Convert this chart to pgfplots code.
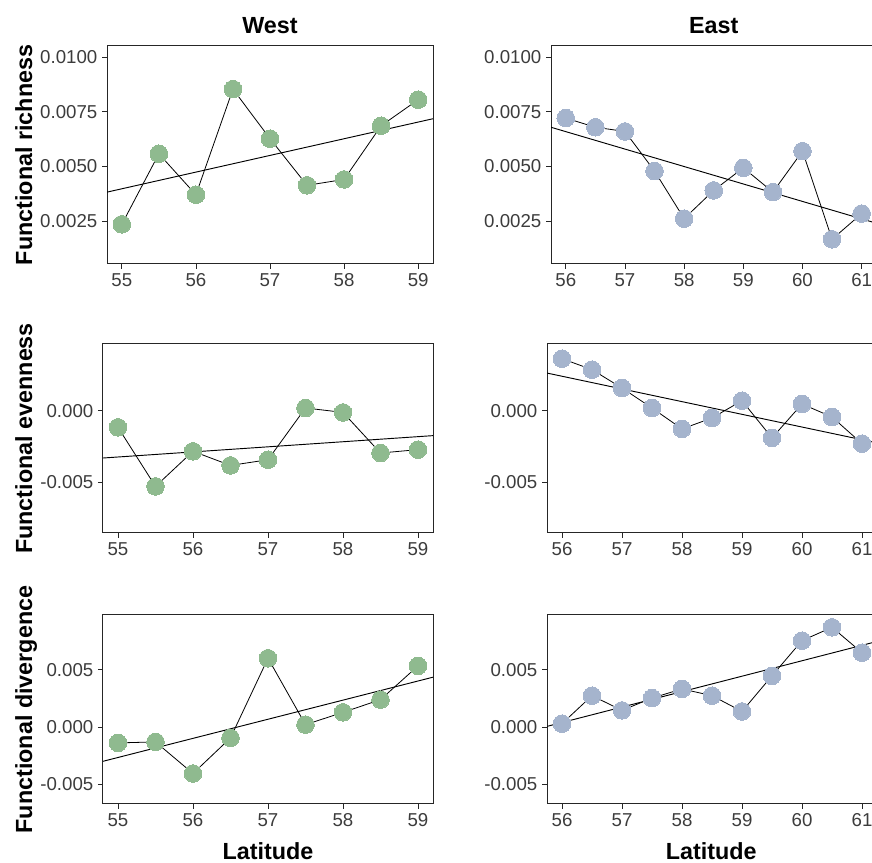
\documentclass[border=0pt]{standalone}
\usepackage{pgfplots}
\pgfplotsset{compat=1.18}
\usepackage{fontspec}
\setmainfont{Liberation Sans}
\definecolor{wgreen}{RGB}{143,186,143}
\definecolor{eblue}{RGB}{165,180,205}
\definecolor{ticktxt}{RGB}{60,60,60}

\pgfplotstableread{
x y
55 0.00236
55.5 0.00558
56 0.00371
56.5 0.00853
57 0.00627
57.5 0.00414
58 0.00441
58.5 0.00686
59 0.00805
}\wrich
\pgfplotstableread{
x y
55 -0.00117
55.5 -0.00531
56 -0.00285
56.5 -0.00384
57 -0.00344
57.5 0.00019
58 -0.00012
58.5 -0.00297
59 -0.00273
}\weven
\pgfplotstableread{
x y
55 -0.00140
55.5 -0.00131
56 -0.00408
56.5 -0.00096
57 0.00602
57.5 0.00020
58 0.00128
58.5 0.00239
59 0.00535
}\wdiv
\pgfplotstableread{
x y
56 0.00721
56.5 0.00679
57 0.00660
57.5 0.00479
58 0.00262
58.5 0.00391
59 0.00494
59.5 0.00383
60 0.00570
60.5 0.00168
61 0.00285
}\erich
\pgfplotstableread{
x y
56 0.00365
56.5 0.00288
57 0.00159
57.5 0.00019
58 -0.00128
58.5 -0.00051
59 0.00070
59.5 -0.00191
60 0.00047
60.5 -0.00044
61 -0.00231
}\eeven
\pgfplotstableread{
x y
56 0.00029
56.5 0.00274
57 0.00145
57.5 0.00253
58 0.00333
58.5 0.00274
59 0.00136
59.5 0.00448
60 0.00756
60.5 0.00873
61 0.00651
}\ediv

\pgfplotsset{
  panel/.style={
    scale only axis, anchor=south west,
    axis line style={black!85, line width=0.75pt},
    tick style={black!85, line width=0.6pt},
    major tick length=3.75pt,
    tick align=outside,
    xtick pos=bottom, ytick pos=left,
    ticklabel style={font=\fontsize{14}{16}\selectfont, text=ticktxt},
    scaled y ticks=false, scaled x ticks=false,
    /pgf/number format/assume math mode=true,
    title style={font=\bfseries\fontsize{17.5}{20}\selectfont, at={(0.5,1)}, anchor=base, yshift=3.5pt},
  },
  west/.style={xmin=54.8, xmax=59.2, xtick={55,56,57,58,59}, xticklabels={55,56,57,58,59}},
  east/.style={xmin=55.75, xmax=61.25, xtick={56,57,58,59,60,61}, xticklabels={56,57,58,59,60,61}},
  row1/.style={ymin=0.00055, ymax=0.0105, height=163.5pt, ytick={0.0025,0.005,0.0075,0.01}, yticklabels={0.0025,0.0050,0.0075,0.0100}},
  row2/.style={ymin=-0.00858, ymax=0.00468, height=141.75pt, ytick={-0.005,0}, yticklabels={-0.005,0.000}},
  row3/.style={ymin=-0.00675, ymax=0.00981, height=141.75pt, ytick={-0.005,0,0.005}, yticklabels={-0.005,0.000,0.005}},
  pts/.style={only marks, color=#1, mark=*, mark size=6.6pt, mark options={solid, draw=#1, fill=#1, line width=0pt}},
  conn/.style={black, line width=0.6pt, no marks},
  fit/.style={black, line width=0.7pt, no marks},
}

\begin{document}
\begin{tikzpicture}
% Row 1
\begin{axis}[panel, west, row1, at={(80.25pt,449.25pt)}, width=244.5pt, title={West}]
  \addplot[pts=wgreen] table[x=x,y=y]{\wrich};
  \addplot[conn] table[x=x,y=y]{\wrich};
  \addplot[fit] coordinates {(54.8,0.00383) (59.2,0.00718)};
\end{axis}
\begin{axis}[panel, east, row1, at={(413.25pt,449.25pt)}, width=244.1pt, title={East}]
  \addplot[pts=eblue] table[x=x,y=y]{\erich};
  \addplot[conn] table[x=x,y=y]{\erich};
  \addplot[fit] coordinates {(55.75,0.00679) (61.25,0.00241)};
\end{axis}
% Row 2
\begin{axis}[panel, west, row2, at={(77.25pt,247.5pt)}, width=247.5pt]
  \addplot[pts=wgreen] table[x=x,y=y]{\weven};
  \addplot[conn] table[x=x,y=y]{\weven};
  \addplot[fit] coordinates {(54.8,-0.00332) (59.2,-0.00175)};
\end{axis}
\begin{axis}[panel, east, row2, at={(410.25pt,247.5pt)}, width=247.5pt]
  \addplot[pts=eblue] table[x=x,y=y]{\eeven};
  \addplot[conn] table[x=x,y=y]{\eeven};
  \addplot[fit] coordinates {(55.75,0.00264) (61.25,-0.00226)};
\end{axis}
% Row 3
\begin{axis}[panel, west, row3, at={(77.25pt,44.25pt)}, width=247.5pt]
  \addplot[pts=wgreen] table[x=x,y=y]{\wdiv};
  \addplot[conn] table[x=x,y=y]{\wdiv};
  \addplot[fit] coordinates {(54.8,-0.00301) (59.2,0.00436)};
\end{axis}
\begin{axis}[panel, east, row3, at={(410.25pt,44.25pt)}, width=247.5pt]
  \addplot[pts=eblue] table[x=x,y=y]{\ediv};
  \addplot[conn] table[x=x,y=y]{\ediv};
  \addplot[fit] coordinates {(55.75,0.00005) (61.25,0.00749)};
\end{axis}
% labels
\begin{scope}[every node/.style={font=\bfseries\fontsize{17.5}{20}\selectfont, text=black}]
\node[rotate=90, anchor=base] at (24pt,531pt) {Functional richness};
\node[rotate=90, anchor=base] at (24pt,318.4pt) {Functional evenness};
\node[rotate=90, anchor=base] at (24pt,115.1pt) {Functional divergence};
\node[anchor=base] at (201pt,2.25pt) {Latitude};
\node[anchor=base] at (533.5pt,2.25pt) {Latitude};
\end{scope}
\pgfresetboundingbox
\path (0pt,0pt) rectangle (654pt,647.25pt);
\end{tikzpicture}
\end{document}
